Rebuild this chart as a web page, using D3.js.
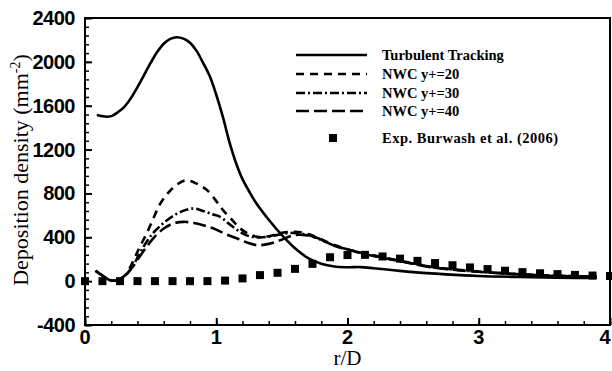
<!DOCTYPE html>
<html>
<head>
<meta charset="utf-8">
<script src="https://cdn.jsdelivr.net/npm/d3@7/dist/d3.min.js"></script>
<style>
  html, body { margin: 0; padding: 0; background: #fff; }
  svg { display: block; }
</style>
</head>
<body>
<svg id="chart" width="612" height="371"></svg>
<script>
// ---------- DATA ----------
const xTicks = [0, 1, 2, 3, 4];
const yTicks = [-400, 0, 400, 800, 1200, 1600, 2000, 2400];
const seriesNames = ["Turbulent Tracking", "NWC y+=20", "NWC y+=30", "NWC y+=40", "Exp. Burwash et al. (2006)"];

const turbR = [0.09, 0.13, 0.17, 0.21, 0.25, 0.3, 0.35, 0.4, 0.45, 0.5, 0.55, 0.6, 0.65, 0.7, 0.75, 0.8, 0.85, 0.9, 0.95, 1.0, 1.05, 1.1, 1.15, 1.2, 1.25, 1.3, 1.4, 1.5, 1.6, 1.7, 1.8, 1.9, 2.0, 2.1, 2.2, 2.35, 2.5, 2.75, 3.0, 3.3, 3.6, 3.9];
const turbV = [1515, 1505, 1500, 1510, 1540, 1590, 1670, 1770, 1880, 1990, 2090, 2165, 2210, 2225, 2212, 2175, 2100, 1990, 1870, 1700, 1500, 1270, 1080, 930, 820, 720, 560, 420, 300, 210, 158, 133, 127, 128, 118, 100, 82, 62, 47, 38, 32, 28];

const nwc20R = [0.08, 0.14, 0.2, 0.26, 0.31, 0.37, 0.42, 0.47, 0.52, 0.57, 0.63, 0.7, 0.77, 0.85, 0.93, 1.0, 1.05, 1.12, 1.18, 1.25, 1.31, 1.4, 1.5, 1.6, 1.7, 1.8, 1.9, 2.0, 2.12, 2.25, 2.38, 2.5, 2.63, 2.8, 3.0, 3.2, 3.4, 3.6, 3.9];
const nwc20V = [95, 45, 5, 15, 60, 190, 320, 435, 570, 700, 800, 880, 920, 890, 830, 730, 650, 560, 483, 430, 405, 410, 440, 450, 430, 380, 330, 292, 255, 222, 190, 162, 132, 108, 88, 72, 58, 49, 42];

const nwc30R = [0.08, 0.14, 0.2, 0.26, 0.31, 0.36, 0.42, 0.47, 0.52, 0.57, 0.63, 0.7, 0.77, 0.83, 0.9, 0.97, 1.03, 1.1, 1.18, 1.25, 1.33, 1.42, 1.5, 1.6, 1.7, 1.8, 1.9, 2.0, 2.12, 2.25, 2.38, 2.5, 2.63, 2.8, 3.0, 3.2, 3.4, 3.6, 3.9];
const nwc30V = [95, 45, 5, 15, 55, 130, 260, 360, 440, 500, 560, 615, 650, 663, 640, 610, 586, 520, 450, 410, 398, 410, 430, 440, 420, 375, 325, 290, 252, 220, 188, 160, 130, 106, 86, 70, 57, 48, 41];

const nwc40R = [0.08, 0.14, 0.2, 0.26, 0.31, 0.36, 0.42, 0.47, 0.52, 0.6, 0.67, 0.75, 0.83, 0.9, 0.98, 1.07, 1.16, 1.24, 1.31, 1.4, 1.49, 1.59, 1.68, 1.78, 1.9, 2.0, 2.12, 2.25, 2.38, 2.5, 2.63, 2.8, 3.0, 3.2, 3.4, 3.6, 3.9];
const nwc40V = [95, 45, 5, 15, 55, 125, 230, 313, 390, 480, 525, 541, 530, 510, 480, 430, 389, 350, 328, 340, 374, 419, 420, 390, 322, 288, 250, 218, 186, 158, 128, 104, 85, 69, 56, 47, 40];

const expR = [0, 0.133, 0.267, 0.4, 0.533, 0.667, 0.8, 0.933, 1.067, 1.2, 1.333, 1.467, 1.6, 1.733, 1.867, 2.0, 2.133, 2.267, 2.4, 2.533, 2.667, 2.8, 2.933, 3.067, 3.2, 3.333, 3.467, 3.6, 3.733, 3.867, 4.0];
const expV = [0, 0, 0, 0, 0, 0, 0, 0, 5, 25, 55, 76, 112, 158, 218, 238, 240, 225, 205, 185, 165, 145, 125, 110, 95, 82, 72, 64, 57, 51, 47];

// ---------- LAYOUT ----------
const svg = d3.select("#chart");
const L = 85, R = 610, T = 18, B = 325;
const x = d3.scaleLinear().domain([0, 4]).range([L, R]);
const y = d3.scaleLinear().domain([-400, 2400]).range([B, T]);

const tickFont = "'Liberation Sans', Arial, sans-serif";
const serif = "'Liberation Serif', 'Times New Roman', serif";

// axes: ticks inward
const xMinor = d3.range(0, 4.0001, 0.2);
const yMinor = d3.range(-400, 2400.001, 80);

svg.append("g").attr("transform", `translate(0,${B})`)
  .call(d3.axisBottom(x).tickValues(xMinor).tickSize(-4).tickFormat(""))
  .call(g => g.select(".domain").remove())
  .call(g => g.selectAll("line").attr("stroke", "#000").attr("stroke-width", 1.5));
svg.append("g").attr("transform", `translate(0,${B})`)
  .call(d3.axisBottom(x).tickValues(xTicks).tickSize(-7).tickFormat(""))
  .call(g => g.select(".domain").remove())
  .call(g => g.selectAll("line").attr("stroke", "#000").attr("stroke-width", 2));

svg.append("g").attr("transform", `translate(${L},0)`)
  .call(d3.axisLeft(y).tickValues(yMinor).tickSize(-4).tickFormat(""))
  .call(g => g.select(".domain").remove())
  .call(g => g.selectAll("line").attr("stroke", "#000").attr("stroke-width", 1.5));
svg.append("g").attr("transform", `translate(${L},0)`)
  .call(d3.axisLeft(y).tickValues(yTicks).tickSize(-7).tickFormat(""))
  .call(g => g.select(".domain").remove())
  .call(g => g.selectAll("line").attr("stroke", "#000").attr("stroke-width", 2));

// frame
svg.append("rect").attr("x", L).attr("y", T).attr("width", R - L).attr("height", B - T)
  .attr("fill", "none").attr("stroke", "#000").attr("stroke-width", 2);

// tick labels
svg.append("g").selectAll("text").data(xTicks).join("text")
  .attr("x", d => Math.min(x(d), 605)).attr("y", 344)
  .attr("text-anchor", "middle")
  .attr("font-family", tickFont).attr("font-weight", "bold").attr("font-size", 20)
  .text(d => d);
svg.append("g").selectAll("text").data(yTicks).join("text")
  .attr("x", 75).attr("y", d => y(d) + 7)
  .attr("text-anchor", "end")
  .attr("font-family", tickFont).attr("font-weight", "bold").attr("font-size", 20)
  .attr("letter-spacing", -0.5)
  .text(d => d);

// axis titles
svg.append("text").attr("x", (L + R) / 2).attr("y", 365)
  .attr("text-anchor", "middle").attr("font-family", serif).attr("font-size", 21)
  .text("r/D");
const yt = svg.append("text")
  .attr("transform", "translate(28,170) rotate(-90)")
  .attr("text-anchor", "middle").attr("font-family", serif).attr("font-size", 22);
yt.append("tspan").text("Deposition density (mm");
yt.append("tspan").attr("dy", -8).attr("font-size", 14).text("-2");
yt.append("tspan").attr("dy", 8).text(")");

// ---------- SERIES ----------
const line = d3.line().x(d => x(d[0])).y(d => y(d[1])).curve(d3.curveCatmullRom.alpha(0.5));
const zip = (a, b) => a.map((v, i) => [v, b[i]]);

const styles = [
  { data: zip(turbR, turbV), dash: null, w: 2.6 },
  { data: zip(nwc20R, nwc20V), dash: "8,6", w: 2.6 },
  { data: zip(nwc30R, nwc30V), dash: "9,3,2,3", w: 2.6 },
  { data: zip(nwc40R, nwc40V), dash: "13,5", w: 2.6 }
];

const plot = svg.append("g");
styles.forEach(s => {
  plot.append("path").attr("d", line(s.data))
    .attr("fill", "none").attr("stroke", "#000").attr("stroke-width", s.w)
    .attr("stroke-dasharray", s.dash);
});

const sq = 8;
plot.selectAll("rect.exp").data(zip(expR, expV)).join("rect")
  .attr("class", "exp")
  .attr("x", d => x(d[0]) - sq / 2).attr("y", d => y(d[1]) - sq / 2)
  .attr("width", sq).attr("height", sq).attr("fill", "#000");

// ---------- LEGEND ----------
const leg = svg.append("g");
const rowsY = [55, 74, 93, 111];
styles.forEach((s, i) => {
  leg.append("line").attr("x1", 296).attr("x2", 367).attr("y1", rowsY[i]).attr("y2", rowsY[i])
    .attr("stroke", "#000").attr("stroke-width", 2.6).attr("stroke-dasharray", s.dash);
  leg.append("text").attr("x", 382).attr("y", rowsY[i] + 5)
    .attr("font-family", serif).attr("font-weight", "bold").attr("font-size", 14.5)
    .text(seriesNames[i]);
});
leg.append("rect").attr("x", 333 - sq / 2).attr("y", 138 - sq / 2).attr("width", sq).attr("height", sq).attr("fill", "#000");
leg.append("text").attr("x", 382).attr("y", 143)
  .attr("font-family", serif).attr("font-weight", "bold").attr("font-size", 14.5)
  .attr("letter-spacing", 0.5)
  .text(seriesNames[4]);
</script>
</body>
</html>
